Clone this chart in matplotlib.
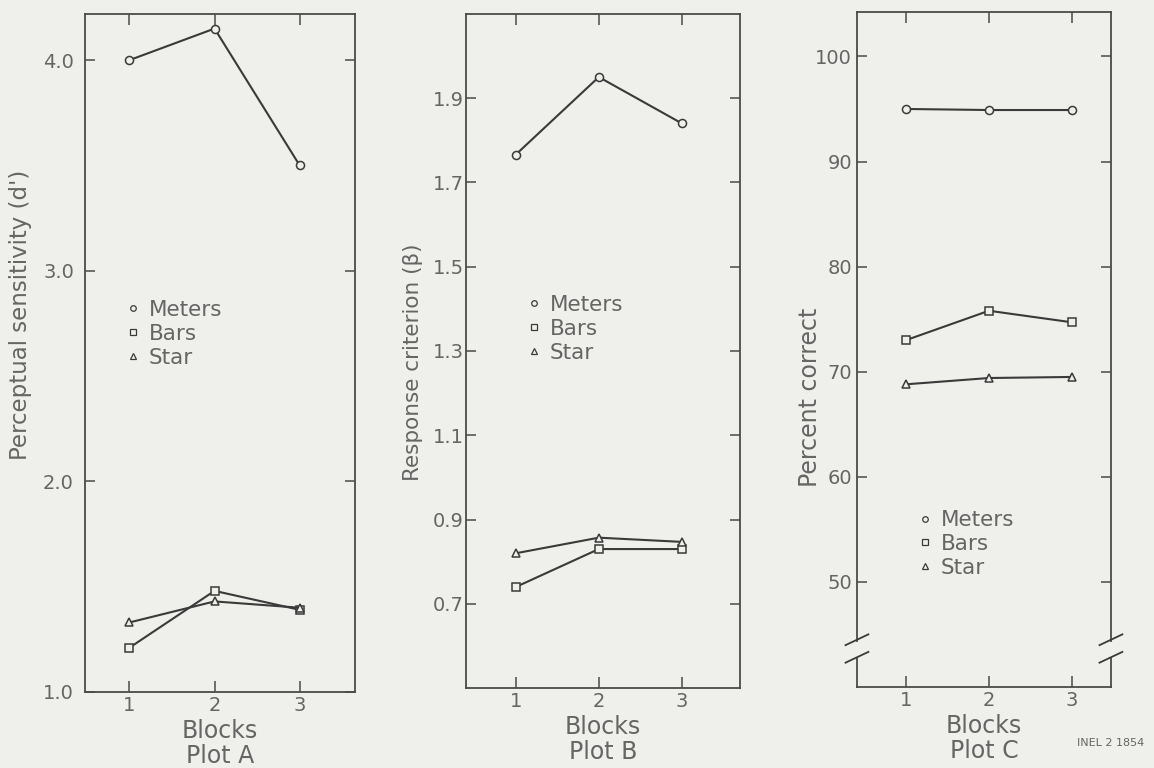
import matplotlib.pyplot as plt
from matplotlib.lines import Line2D

plt.rcParams['font.family'] = ['DejaVu Sans']

# values
blocks = [1, 2, 3]
series_names = ["Meters", "Bars", "Star"]

meters_d = [4.0, 4.15, 3.5]
bars_d = [1.21, 1.48, 1.39]
star_d = [1.33, 1.43, 1.40]

meters_beta = [1.766, 1.95, 1.84]
bars_beta = [0.74, 0.83, 0.83]
star_beta = [0.82, 0.857, 0.847]

meters_pc = [95.0, 94.9, 94.9]
bars_pc = [73.0, 75.8, 74.7]
star_pc = [68.8, 69.4, 69.5]

ticks_d = [1.0, 2.0, 3.0, 4.0]
ticks_beta = [0.7, 0.9, 1.1, 1.3, 1.5, 1.7, 1.9]
ticks_pc = [50, 60, 70, 80, 90, 100]

bg = '#efefec'
ink = '#3a3a3a'
txt = '#656565'
markers = ['o', 's', '^']

fig = plt.figure(figsize=(11.54, 7.68), dpi=100, facecolor=bg)

panels = [
    dict(rect=[0.0737, 0.099, 0.234, 0.883], data=[meters_d, bars_d, star_d],
         ylim=(1.0, 4.22), xlim=(0.48, 3.65), yticks=ticks_d, fmt='%.1f',
         ylabel="Perceptual sensitivity (d')", ysize=16.5, plot="Plot A", ypad=8,
         ylab_xy=(-0.196, 0.556), leg_xy=(0.155, 0.528)),
    dict(rect=[0.4038, 0.104, 0.2374, 0.878], data=[meters_beta, bars_beta, star_beta],
         ylim=(0.5, 2.1), xlim=(0.4, 3.7), yticks=ticks_beta, fmt='%.1f',
         ylabel="Response criterion (β)", ysize=15.5, plot="Plot B", ypad=1.5,
         ylab_xy=(-0.157, 0.484), leg_xy=(0.226, 0.533)),
    dict(rect=[0.7426, 0.1055, 0.2201, 0.8785], data=[meters_pc, bars_pc, star_pc],
         ylim=(40, 104.2), xlim=(0.41, 3.47), yticks=ticks_pc, fmt='%d',
         ylabel="Percent correct", ysize=17, plot="Plot C", ypad=3.5,
         ylab_xy=(-0.138, 0.43), leg_xy=(0.244, 0.212)),
]

for p in panels:
    ax = fig.add_axes(p['rect'])
    ax.set_facecolor(bg)
    for vals, m in zip(p['data'], markers):
        ms = 6.2 if m == 's' else 5.8
        ax.plot(blocks, vals, color=ink, lw=1.5, marker=m, ms=ms,
                mfc=bg, mec=ink, mew=1.1, zorder=3)
    ax.set_xlim(*p['xlim'])
    ax.set_ylim(*p['ylim'])
    ax.set_xticks(blocks)
    ax.set_yticks(p['yticks'])
    ax.set_yticklabels([p['fmt'] % v for v in p['yticks']])
    for s in ax.spines.values():
        s.set_color('#4a4a4a')
        s.set_linewidth(1.3)
    ax.tick_params(axis='y', direction='in', length=7, width=1.1, color='#4a4a4a',
                   left=True, right=True, labelsize=14, labelcolor=txt, pad=p['ypad'])
    ax.tick_params(axis='x', direction='in', length=8, width=1.1, color='#4a4a4a',
                   top=True, bottom=True, labelsize=14, labelcolor=txt, pad=3)
    ax.set_xlabel("Blocks\n" + p['plot'], fontsize=17, color=txt, labelpad=3,
                  linespacing=1.05)
    ax.set_ylabel(p['ylabel'], fontsize=p['ysize'], color=txt)
    ax.yaxis.set_label_coords(*p['ylab_xy'])

    handles = [Line2D([], [], ls='none', marker=m, ms=4, mfc=bg, mec=ink, mew=0.9)
               for m in markers]
    ax.legend(handles, series_names, loc='center left', bbox_to_anchor=p['leg_xy'],
              frameon=False, fontsize=15.5, labelcolor=txt, handlelength=0.6,
              handletextpad=0.4, labelspacing=0.18, borderpad=0, borderaxespad=0)

    if p['plot'] == "Plot C":
        # axis break marks on both vertical spines
        for x0 in (0.0, 1.0):
            ax.plot([x0, x0], [0.047, 0.064], transform=ax.transAxes, color=bg,
                    lw=3, clip_on=False, zorder=5)
            for yc in (0.070, 0.044):
                ax.plot([x0 - 0.045, x0 + 0.045], [yc - 0.008, yc + 0.008],
                        transform=ax.transAxes, color=ink, lw=1.3,
                        clip_on=False, zorder=6)

fig.text(0.933, 0.032, "INEL 2 1854", fontsize=8, color=txt, ha='left', va='center')

fig.savefig("out.png", dpi=100, facecolor=bg)
